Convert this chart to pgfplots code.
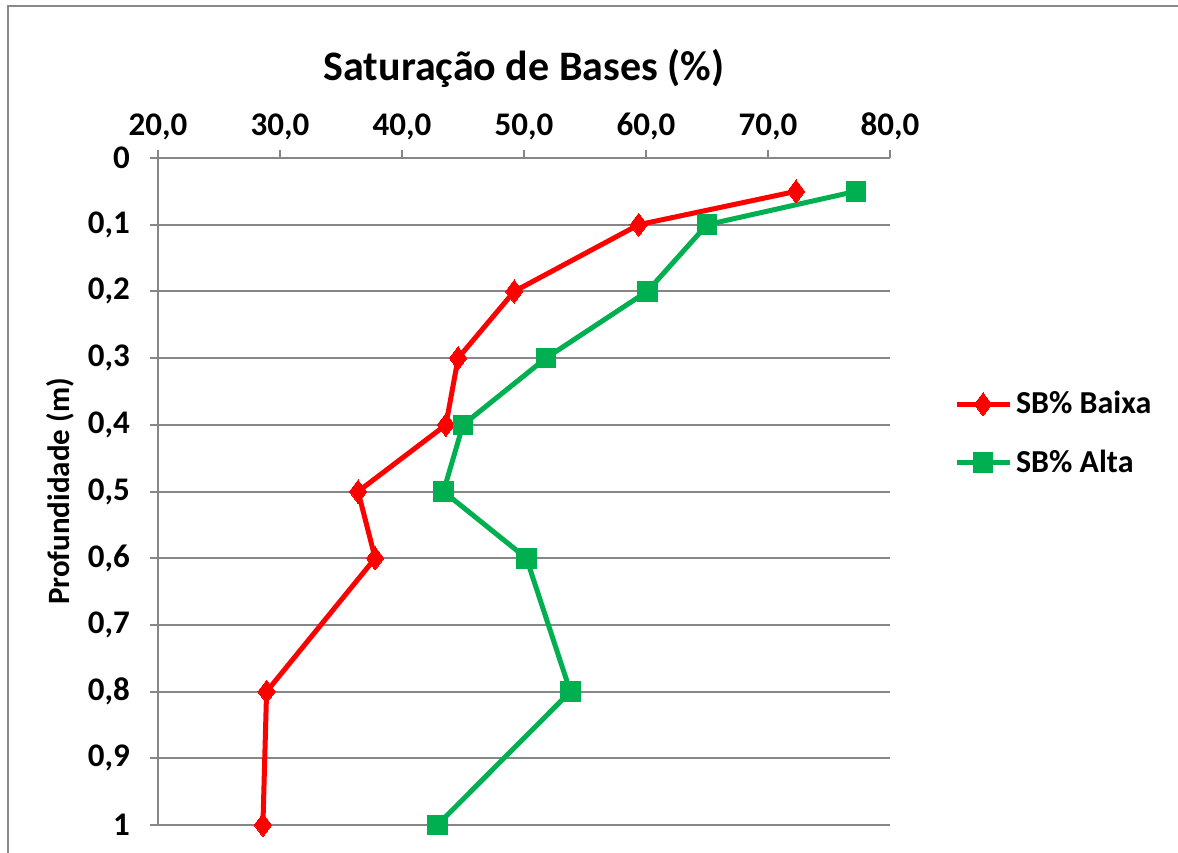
\documentclass[border=0pt]{standalone}
\usepackage{pgfplots}
\pgfplotsset{compat=1.18}
\usepackage{fontspec}
\setmainfont{Carlito}
\definecolor{sbred}{HTML}{FF0000}
\definecolor{sbgreen}{HTML}{00B050}
\definecolor{gridgray}{HTML}{868686}
\definecolor{framegray}{HTML}{898989}

\begin{document}
\begin{tikzpicture}
\useasboundingbox (0pt,0pt) rectangle (589pt,426pt);
% chart frame
\draw[framegray, line width=1pt] (4pt,-2pt) -- (4pt,423pt) -- (592pt,423pt);

\begin{axis}[
  at={(79pt,13.5pt)}, anchor=south west,
  scale only axis,
  width=366pt, height=333.5pt,
  xmin=20, xmax=80, ymin=0, ymax=1,
  y dir=reverse,
  axis x line*=top,
  axis y line*=left,
  axis line style={gridgray, line width=1pt},
  xtick={20,30,...,80},
  xticklabels={{20,0},{30,0},{40,0},{50,0},{60,0},{70,0},{80,0}},
  ytick={0,0.1,...,1.01},
  yticklabels={0,{0,1},{0,2},{0,3},{0,4},{0,5},{0,6},{0,7},{0,8},{0,9},1},
  tick align=outside,
  major tick length=4pt,
  tick style={gridgray, line width=1pt},
  ymajorgrids,
  grid style={gridgray, line width=1pt},
  ticklabel style={font=\fontsize{16.5}{19}\selectfont\bfseries},
  xticklabel style={yshift=1.5pt},
  yticklabel style={xshift=-6.5pt},
  ylabel={Profundidade (m)},
  ylabel style={font=\fontsize{15.5}{18}\selectfont\bfseries},
  clip=false,
  legend style={at={(axis description cs:1.087,0.587)}, anchor=west,
    draw=none, fill=none, font=\fontsize{16}{18}\selectfont\bfseries,
    row sep=12.5pt, inner sep=0pt},
  legend cell align=left,
  legend image code/.code={%
    \draw[mark repeat=2,mark phase=2] plot coordinates {(0pt,0pt) (13.25pt,0pt) (26.5pt,0pt)};},
]
\addplot[sbred, line width=2.5pt, mark=diamond*, mark size=5.8pt, mark options={line width=0pt}]
  coordinates {(72.3,0.05) (59.4,0.1) (49.2,0.2) (44.6,0.3) (43.6,0.4) (36.4,0.5) (37.8,0.6) (28.9,0.8) (28.6,1.0)};
\addlegendentry{SB\% Baixa}
\addplot[sbgreen, line width=2.5pt, mark=square*, mark size=4.9pt, mark options={line width=0pt}]
  coordinates {(77.2,0.05) (65.0,0.1) (60.1,0.2) (51.8,0.3) (45.0,0.4) (43.4,0.5) (50.2,0.6) (53.8,0.8) (42.9,1.0)};
\addlegendentry{SB\% Alta}
\end{axis}

\node[font=\fontsize{21}{25}\selectfont\bfseries] at (262pt,392pt) {Saturação de Bases (\%)};
\end{tikzpicture}
\end{document}
